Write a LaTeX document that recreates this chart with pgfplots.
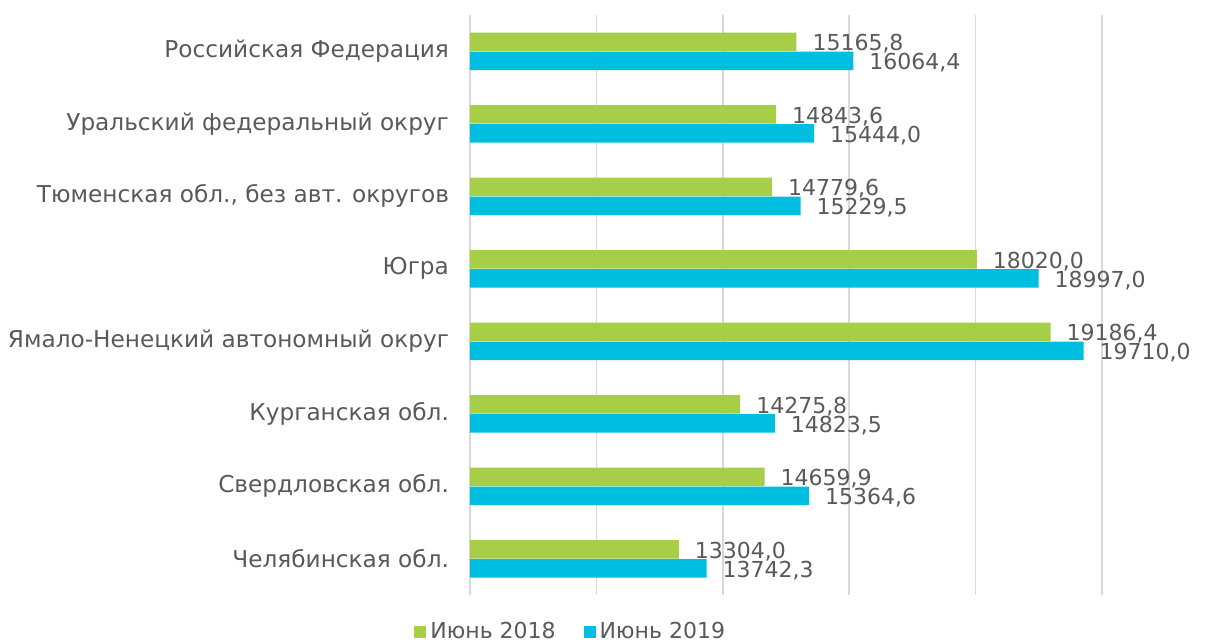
\documentclass[border=0pt]{standalone}
\usepackage{pgfplots}
\pgfplotsset{compat=1.18}
\usepackage{fontspec}
\setmainfont{DejaVu Sans}
\definecolor{grn}{HTML}{A6CE46}
\definecolor{cyn}{HTML}{00BEE0}
\definecolor{txt}{HTML}{595959}
\definecolor{grd}{HTML}{D9D9D9}
\begin{document}
\begin{tikzpicture}
\begin{axis}[
  scale only axis, width=316pt, height=290pt,
  xbar, bar width=9.25pt,
  xmin=10000, xmax=20000,
  ymin=-0.5, ymax=7.5, y dir=reverse,
  xtick={10000,12000,...,20000}, xticklabels={}, scaled x ticks=false,
  xmajorgrids, grid style={grd, line width=0.8pt},
  axis line style={draw=none},
  major tick length=0,
  ytick={0,...,7},
  yticklabels={Российская Федерация, Уральский федеральный округ, {Тюменская обл., без авт. округов}, Югра, Ямало-Ненецкий автономный округ, Курганская обл., Свердловская обл., Челябинская обл.},
  yticklabel style={font=\fontsize{11.6}{13}\selectfont, text=txt, xshift=-7pt},
  nodes near coords,
  nodes near coords style={font=\fontsize{11}{13}\selectfont, text=txt, anchor=west, xshift=4.5pt, yshift=-1pt,
    /pgf/number format/.cd, fixed, fixed zerofill, precision=1, use comma, 1000 sep={}, assume math mode=true},
  legend style={at={(0.161,-0.064)}, anchor=center, legend columns=2, draw=none, fill=none,
    font=\fontsize{11}{13}\selectfont, text=txt,
    /tikz/every even column/.append style={column sep=12pt}},
  legend image code/.code={\fill[#1] (0pt,-3pt) rectangle (6pt,3pt);},
]
\addplot[fill=grn, draw=none, bar shift=4.75pt] coordinates {
  (15165.8,0) (14843.6,1) (14779.6,2) (18020.0,3) (19186.4,4) (14275.8,5) (14659.9,6) (13304.0,7)
};
\addplot[fill=cyn, draw=none, bar shift=-4.75pt] coordinates {
  (16064.4,0) (15444.0,1) (15229.5,2) (18997.0,3) (19710.0,4) (14823.5,5) (15364.6,6) (13742.3,7)
};
\legend{Июнь 2018, Июнь 2019}
\end{axis}
\pgfresetboundingbox
\path[use as bounding box] (-235pt,-23.5pt) rectangle (375.5pt,297.5pt);
\end{tikzpicture}
\end{document}
